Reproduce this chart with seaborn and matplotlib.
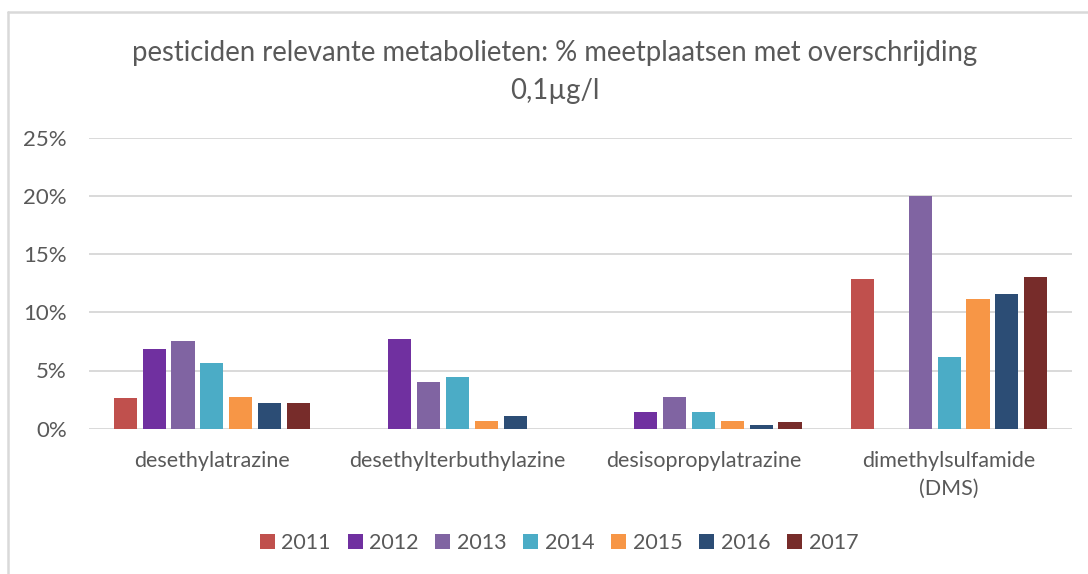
import matplotlib
matplotlib.use("Agg")
import matplotlib.pyplot as plt
from matplotlib.patches import Patch
from matplotlib.lines import Line2D
import seaborn as sns
import pandas as pd

# ---- data ----
stoffen = ["desethylatrazine", "desethylterbuthylazine", "desisopropylatrazine",
           "dimethylsulfamide\n(DMS)"]
jaren = ["2011", "2012", "2013", "2014", "2015", "2016", "2017"]
# % meetplaatsen met overschrijding, per jaar (volgorde = stoffen)
v2011 = [2.6, 0.0, 0.0, 12.85]
v2012 = [6.85, 7.7, 1.4, 0.0]
v2013 = [7.55, 4.05, 2.7, 20.0]
v2014 = [5.65, 4.45, 1.4, 6.15]
v2015 = [2.7, 0.65, 0.65, 11.15]
v2016 = [2.25, 1.05, 0.3, 11.55]
v2017 = [2.25, 0.0, 0.55, 13.0]
y_ticks = [0, 5, 10, 15, 20, 25]
kleuren = ["#C0504D", "#7030A0", "#8064A2", "#4BACC6", "#F79646", "#2C4D75", "#772C2A"]

titel = "pesticiden relevante metabolieten: % meetplaatsen met overschrijding\n0,1µg/l"

reeksen = [v2011, v2012, v2013, v2014, v2015, v2016, v2017]
rows = []
for jaar, vals in zip(jaren, reeksen):
    for s, v in zip(stoffen, vals):
        rows.append({"stof": s, "jaar": jaar, "pct": v})
df = pd.DataFrame(rows)

# ---- figure ----
sns.set_style("white")
plt.rcParams["font.family"] = ["Lato", "DejaVu Sans"]
W, H = 1088, 574
fig = plt.figure(figsize=(W / 100, H / 100), dpi=100)
fig.patch.set_facecolor("white")

ax = fig.add_axes([89 / W, 1 - 428.7 / H, (1072 - 89) / W, (428.7 - 137.7) / H])
sns.barplot(data=df, x="stof", y="pct", hue="jaar", order=stoffen, hue_order=jaren,
            palette=kleuren, saturation=1, width=0.823, gap=0.2, linewidth=0, ax=ax,
            legend=False, errorbar=None, zorder=3)

ax.set_ylim(0, 25)
ax.set_xlim(-0.5, len(stoffen) - 0.5)
ax.set_yticks(y_ticks)
ax.set_yticklabels([f"{t}%" for t in y_ticks])
ax.set_xlabel("")
ax.set_ylabel("")
ax.yaxis.grid(True, color="#D9D9D9", linewidth=1.4, zorder=0)
ax.set_axisbelow(True)
for sp in ax.spines.values():
    sp.set_visible(False)
ax.tick_params(axis="y", length=0, pad=16, labelsize=16, labelcolor="#595959")
ax.tick_params(axis="x", length=0, pad=16, labelsize=15.5, labelcolor="#595959")
for lab in ax.get_xticklabels():
    lab.set_linespacing(1.5)

fig.text(555 / W, 1 - 72 / H, titel, ha="center", va="center", fontsize=19.8,
         color="#595959", linespacing=1.6)

handles = [Patch(facecolor=c, edgecolor="none") for c in kleuren]
fig.legend(handles, jaren, loc="center", bbox_to_anchor=(559 / W, 1 - 543 / H),
           ncol=7, frameon=False, fontsize=15.5, labelcolor="#595959",
           handlelength=0.7, handleheight=0.7, handletextpad=0.3,
           columnspacing=0.78)

# chart border (top + left)
fig.add_artist(Line2D([7.5 / W, 1], [1 - 12 / H, 1 - 12 / H], transform=fig.transFigure,
                      color="#D9D9D9", linewidth=1.8))
fig.add_artist(Line2D([7.5 / W, 7.5 / W], [0, 1 - 12 / H], transform=fig.transFigure,
                      color="#D9D9D9", linewidth=1.8))

fig.savefig("out.png", dpi=100, facecolor="white")
